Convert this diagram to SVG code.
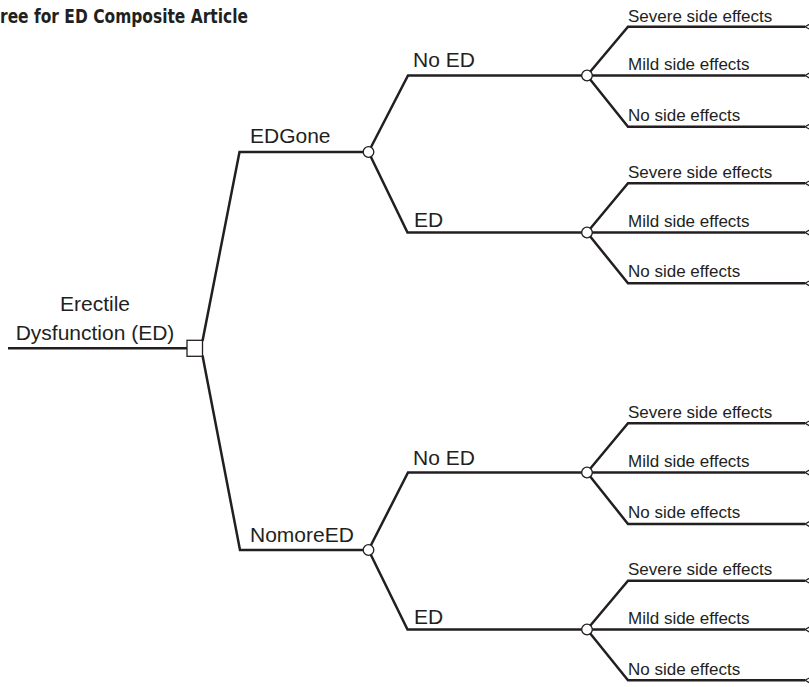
<svg xmlns="http://www.w3.org/2000/svg" width="809" height="687" viewBox="0 0 809 687">
<style>
.ln{fill:none;stroke:#231f20;stroke-width:2.5;stroke-linejoin:miter}
.ch{fill:#fff;stroke:#231f20;stroke-width:1.3}
.dc{fill:#fff;stroke:#231f20;stroke-width:1.3}
.tm{fill:#fff;stroke:#231f20;stroke-width:1.2}
.t1{font-family:"Liberation Sans",Arial,sans-serif;font-size:21px;fill:#231f20}
.t2{font-family:"Liberation Sans",Arial,sans-serif;font-size:17px;fill:#231f20}
.tt{font-family:"DejaVu Sans","Liberation Sans",sans-serif;font-weight:bold;font-size:20px;fill:#231f20}
</style>
<rect width="809" height="687" fill="#fff"/>
<text class="tt" x="0" y="23" textLength="248" lengthAdjust="spacingAndGlyphs">ree for ED Composite Article</text>
<g id="connectors">
<path class="ln" d="M8 348.3H187"/>
<path class="ln" d="M202.5 341L239.5 152H368"/>
<path class="ln" d="M202.5 355.5L240 550H368"/>
<path class="ln" d="M368.5 152L408 75.5H587"/>
<path class="ln" d="M368.5 152L407.5 232.5H587"/>
<path class="ln" d="M368.5 550L408 472.5H587"/>
<path class="ln" d="M368.5 550L407.5 629.5H587"/>
<path class="ln" d="M587 75.5L628 26.7H805M587 75.5H805M587 75.5L628 126.7H805"/>
<path class="ln" d="M587 232.5L628 183.3H805M587 232.5H805M587 232.5L628 283.3H805"/>
<path class="ln" d="M587 472.5L628 423.3H805M587 472.5H805M587 472.5L628 524H805"/>
<path class="ln" d="M587 629.5L628 580.7H805M587 629.5H805M587 629.5L628 680.3H805"/>
</g>
<g id="root">
<text class="t1" x="95" y="311" text-anchor="middle">Erectile</text>
<text class="t1" x="95" y="340" text-anchor="middle">Dysfunction (ED)</text>
<rect class="dc" x="187" y="340.3" width="15.5" height="16"/>
</g>
<g id="edgone">
<text class="t1" x="250" y="143">EDGone</text>
<circle class="ch" cx="368.5" cy="152" r="5.3"/>
</g>
<g id="nomoreed">
<text class="t1" x="250" y="542">NomoreED</text>
<circle class="ch" cx="368.5" cy="550" r="5.3"/>
</g>
<g id="edgone-noed">
<text class="t1" x="413" y="67">No ED</text>
<circle class="ch" cx="587" cy="75.5" r="5.3"/>
</g>
<g id="edgone-ed">
<text class="t1" x="414" y="227">ED</text>
<circle class="ch" cx="587" cy="232.5" r="5.3"/>
</g>
<g id="nomoreed-noed">
<text class="t1" x="413" y="465">No ED</text>
<circle class="ch" cx="587" cy="472.5" r="5.3"/>
</g>
<g id="nomoreed-ed">
<text class="t1" x="414" y="624">ED</text>
<circle class="ch" cx="587" cy="629.5" r="5.3"/>
</g>
<g id="t1-severe"><text class="t2" x="628" y="22">Severe side effects</text><polygon class="tm" points="805,26.7 814,21.7 814,31.7"/></g>
<g id="t1-mild"><text class="t2" x="628" y="70">Mild side effects</text><polygon class="tm" points="805,75.5 814,70.5 814,80.5"/></g>
<g id="t1-none"><text class="t2" x="628" y="121">No side effects</text><polygon class="tm" points="805,126.7 814,121.7 814,131.7"/></g>
<g id="t2-severe"><text class="t2" x="628" y="177.5">Severe side effects</text><polygon class="tm" points="805,183.3 814,178.3 814,188.3"/></g>
<g id="t2-mild"><text class="t2" x="628" y="226.5">Mild side effects</text><polygon class="tm" points="805,232.5 814,227.5 814,237.5"/></g>
<g id="t2-none"><text class="t2" x="628" y="277">No side effects</text><polygon class="tm" points="805,283.3 814,278.3 814,288.3"/></g>
<g id="t3-severe"><text class="t2" x="628" y="417.5">Severe side effects</text><polygon class="tm" points="805,423.3 814,418.3 814,428.3"/></g>
<g id="t3-mild"><text class="t2" x="628" y="466.5">Mild side effects</text><polygon class="tm" points="805,472.5 814,467.5 814,477.5"/></g>
<g id="t3-none"><text class="t2" x="628" y="518">No side effects</text><polygon class="tm" points="805,524 814,519 814,529"/></g>
<g id="t4-severe"><text class="t2" x="628" y="575">Severe side effects</text><polygon class="tm" points="805,580.7 814,575.7 814,585.7"/></g>
<g id="t4-mild"><text class="t2" x="628" y="623.5">Mild side effects</text><polygon class="tm" points="805,629.5 814,624.5 814,634.5"/></g>
<g id="t4-none"><text class="t2" x="628" y="674.5">No side effects</text><polygon class="tm" points="805,680.3 814,675.3 814,685.3"/></g>
</svg>
